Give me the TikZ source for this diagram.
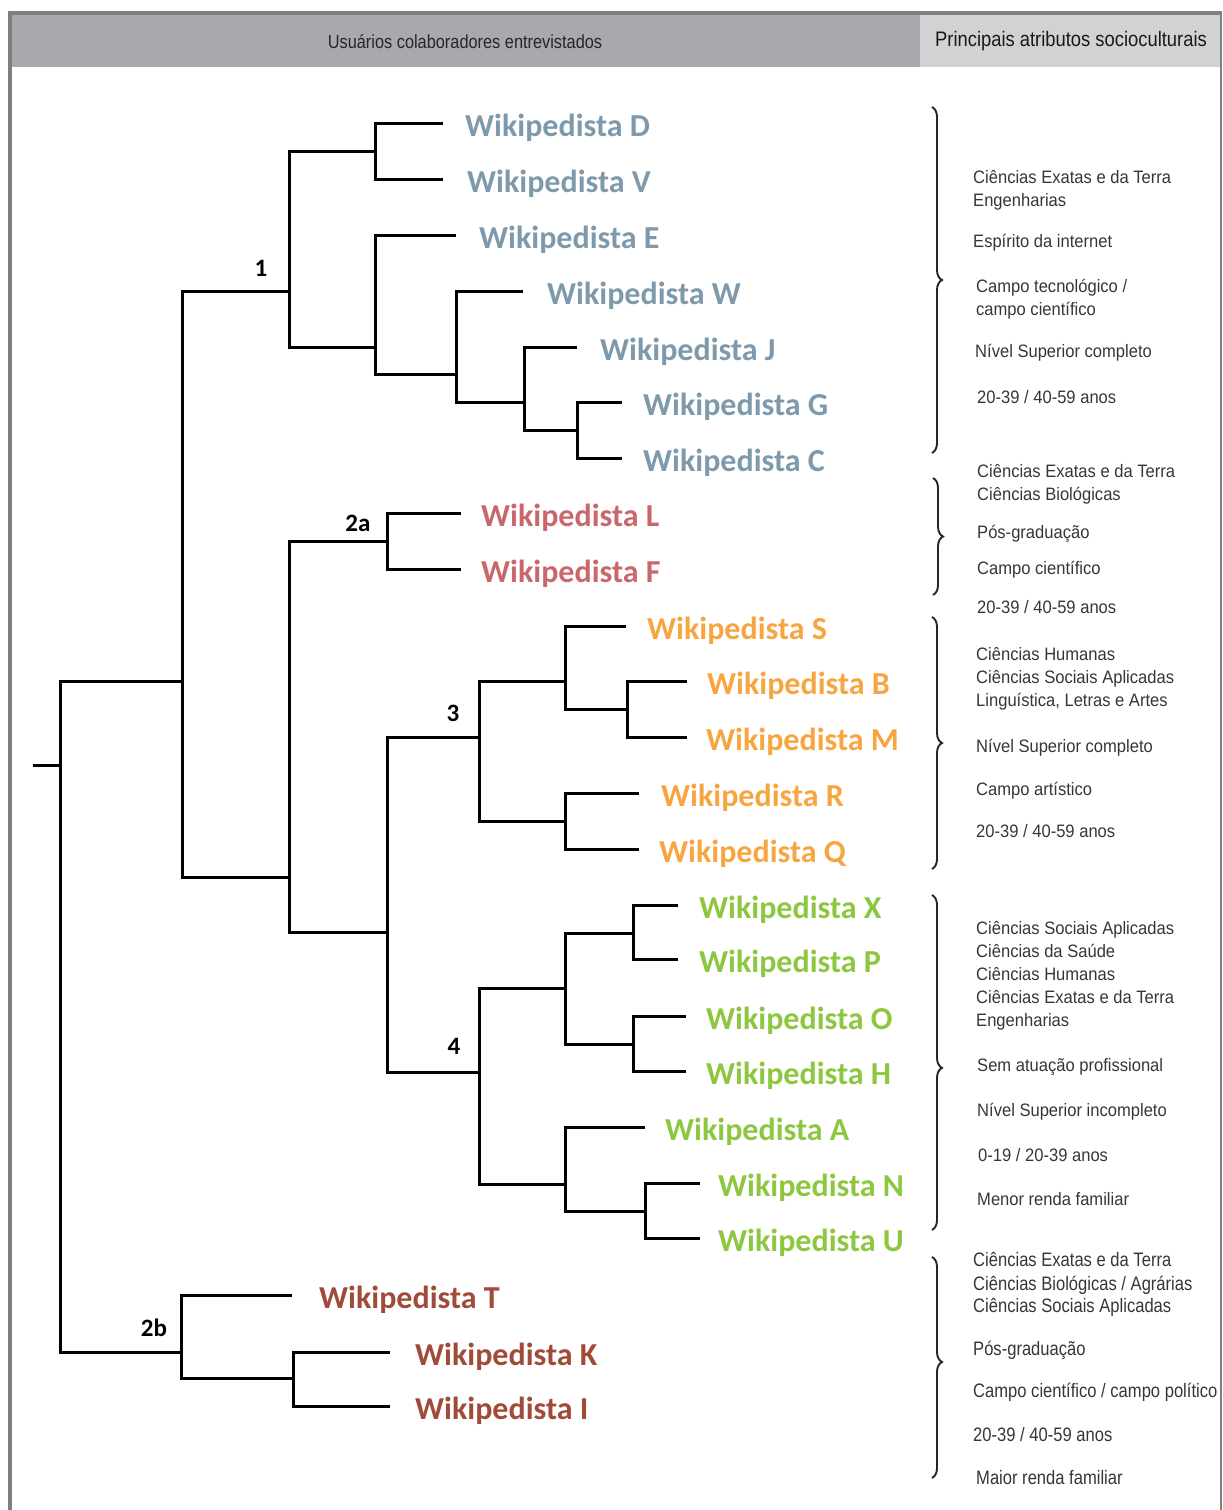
\documentclass[tikz,border=0pt]{standalone}
\usepackage{fontspec}
\setmainfont{Liberation Sans}
\newfontfamily\calfont{Carlito}
\usetikzlibrary{decorations.pathreplacing}
\definecolor{cblue}{HTML}{7D99AB}
\definecolor{cred}{HTML}{C9676B}
\definecolor{corange}{HTML}{F7A541}
\definecolor{cgreen}{HTML}{8DC63F}
\definecolor{cbrown}{HTML}{A04A3A}
\definecolor{ctext}{HTML}{363636}
\definecolor{hdark}{HTML}{A7A9AC}
\definecolor{hlight}{HTML}{D1D2D4}
\definecolor{framegray}{HTML}{7F7F7F}
\newcommand{\hsq}[2]{\scalebox{#1}[1]{#2}}
\begin{document}
\begin{tikzpicture}[x=1pt,y=-1pt,
  tree/.style={line width=3pt, draw=black},
  wiki/.style={anchor=base west, inner sep=0pt, font=\calfont\bfseries\fontsize{32}{38}\selectfont},
  attr/.style={anchor=base west, inner sep=0pt, text=ctext, font=\fontsize{18}{22}\selectfont},
  attrb/.style={anchor=base west, inner sep=0pt, text=ctext, font=\fontsize{19.5}{23}\selectfont},
  clab/.style={inner sep=0pt, font=\calfont\bfseries\fontsize{25}{30}\selectfont},
  brc/.style={decorate, decoration={brace, amplitude=10pt, aspect=#1}, line width=1.9pt, draw=black!85},
  brc/.default=0.5
]
\useasboundingbox (0,0) rectangle (1223,1510);
% header
\fill[hdark] (12,15) rectangle (920,67);
\fill[hlight] (920,15) rectangle (1220,67);
\draw[framegray, line width=4pt] (8,13) -- (1222,13);
\draw[framegray, line width=3.5pt] (10,11) -- (10,1510);
\draw[framegray, line width=2pt] (1221,11) -- (1221,1510);
\node[font=\fontsize{19}{22}\selectfont, text=black!85] (h1) at (465,42) {\hsq{0.86}{Usuários colaboradores entrevistados}};
\node[font=\fontsize{21}{24}\selectfont, text=black!90] (h2) at (1071,41) {\hsq{0.875}{Principais atributos socioculturais}};

% internal nodes
\coordinate (r0) at (33,765);
\coordinate (root) at (60,765);
\coordinate (nA) at (182,681);
\coordinate (c1) at (289,291);
\coordinate (DV) at (375,151);
\coordinate (Erest) at (375,347);
\coordinate (Wrest) at (456,374);
\coordinate (Jrest) at (524,402);
\coordinate (GC) at (577,430);
\coordinate (c2) at (289,877);
\coordinate (n2a) at (387,541);
\coordinate (c34) at (387,932);
\coordinate (n3) at (479,737);
\coordinate (SBM) at (565,681);
\coordinate (BM) at (627,709);
\coordinate (RQ) at (565,821);
\coordinate (n4) at (479,1072);
\coordinate (XPOH) at (565,988);
\coordinate (XP) at (633,933);
\coordinate (OH) at (633,1044);
\coordinate (ANU) at (565,1184);
\coordinate (NU) at (645,1211);
\coordinate (n2b) at (181,1352);
\coordinate (KI) at (293,1378);
% leaf ends
\coordinate (eD) at (443,123);
\coordinate (eV) at (443,179);
\coordinate (eE) at (456,235);
\coordinate (eW) at (523,291);
\coordinate (eJ) at (577,347);
\coordinate (eG) at (622,402);
\coordinate (eC) at (622,458);
\coordinate (eL) at (461,513);
\coordinate (eF) at (461,569);
\coordinate (eS) at (626,626);
\coordinate (eB) at (687,681);
\coordinate (eM) at (687,737);
\coordinate (eR) at (639,793);
\coordinate (eQ) at (639,849);
\coordinate (eX) at (678,905);
\coordinate (eP) at (678,959);
\coordinate (eO) at (686,1016);
\coordinate (eH) at (686,1071);
\coordinate (eA) at (645,1127);
\coordinate (eN) at (700,1183);
\coordinate (eU) at (700,1238);
\coordinate (eT) at (292,1295);
\coordinate (eK) at (390,1352);
\coordinate (eI) at (390,1406);

% edges
\draw[tree] (r0) -- (root);
\draw[tree] (root) |- (nA);
\draw[tree] (root) |- (n2b);
\draw[tree] (nA) |- (c1);
\draw[tree] (nA) |- (c2);
\draw[tree] (c1) |- (DV);
\draw[tree] (c1) |- (Erest);
\draw[tree] (DV) |- (eD);
\draw[tree] (DV) |- (eV);
\draw[tree] (Erest) |- (eE);
\draw[tree] (Erest) |- (Wrest);
\draw[tree] (Wrest) |- (eW);
\draw[tree] (Wrest) |- (Jrest);
\draw[tree] (Jrest) |- (eJ);
\draw[tree] (Jrest) |- (GC);
\draw[tree] (GC) |- (eG);
\draw[tree] (GC) |- (eC);
\draw[tree] (c2) |- (n2a);
\draw[tree] (c2) |- (c34);
\draw[tree] (n2a) |- (eL);
\draw[tree] (n2a) |- (eF);
\draw[tree] (c34) |- (n3);
\draw[tree] (c34) |- (n4);
\draw[tree] (n3) |- (SBM);
\draw[tree] (n3) |- (RQ);
\draw[tree] (SBM) |- (eS);
\draw[tree] (SBM) |- (BM);
\draw[tree] (BM) |- (eB);
\draw[tree] (BM) |- (eM);
\draw[tree] (RQ) |- (eR);
\draw[tree] (RQ) |- (eQ);
\draw[tree] (n4) |- (XPOH);
\draw[tree] (n4) |- (ANU);
\draw[tree] (XPOH) |- (XP);
\draw[tree] (XPOH) |- (OH);
\draw[tree] (XP) |- (eX);
\draw[tree] (XP) |- (eP);
\draw[tree] (OH) |- (eO);
\draw[tree] (OH) |- (eH);
\draw[tree] (ANU) |- (eA);
\draw[tree] (ANU) |- (NU);
\draw[tree] (NU) |- (eN);
\draw[tree] (NU) |- (eU);
\draw[tree] (n2b) |- (eT);
\draw[tree] (n2b) |- (KI);
\draw[tree] (KI) |- (eK);
\draw[tree] (KI) |- (eI);

% cluster labels
\node[clab] (l1) at (261,268) {1};
\node[clab] (l2a) at (358,523) {2a};
\node[clab] (l3) at (453,713) {3};
\node[clab] (l4) at (454,1046) {4};
\node[clab] (l2b) at (154,1328) {2b};

% leaf labels
\node[wiki, text=cblue] (D) at (465,136) {Wikipedista D};
\node[wiki, text=cblue] (V) at (467,192) {Wikipedista V};
\node[wiki, text=cblue] (E) at (479,248) {Wikipedista E};
\node[wiki, text=cblue] (W) at (547,304) {Wikipedista W};
\node[wiki, text=cblue] (J) at (600,360) {Wikipedista J};
\node[wiki, text=cblue] (G) at (643,415) {Wikipedista G};
\node[wiki, text=cblue] (C) at (643,471) {Wikipedista C};
\node[wiki, text=cred] (L) at (481,526) {Wikipedista L};
\node[wiki, text=cred] (F) at (481,582) {Wikipedista F};
\node[wiki, text=corange] (S) at (647,639) {Wikipedista S};
\node[wiki, text=corange] (B) at (707,694) {Wikipedista B};
\node[wiki, text=corange] (M) at (706,750) {Wikipedista M};
\node[wiki, text=corange] (R) at (661,806) {Wikipedista R};
\node[wiki, text=corange] (Q) at (659,862) {Wikipedista Q};
\node[wiki, text=cgreen] (X) at (699,918) {Wikipedista X};
\node[wiki, text=cgreen] (P) at (699,972) {Wikipedista P};
\node[wiki, text=cgreen] (O) at (706,1029) {Wikipedista O};
\node[wiki, text=cgreen] (H) at (706,1084) {Wikipedista H};
\node[wiki, text=cgreen] (A) at (665,1140) {Wikipedista A};
\node[wiki, text=cgreen] (N) at (718,1196) {Wikipedista N};
\node[wiki, text=cgreen] (U) at (718,1251) {Wikipedista U};
\node[wiki, text=cbrown] (T) at (319,1308) {Wikipedista T};
\node[wiki, text=cbrown] (K) at (415,1365) {Wikipedista K};
\node[wiki, text=cbrown] (I) at (415,1419) {Wikipedista I};

% braces
\coordinate (b1t) at (932,107); \coordinate (b1b) at (932,453);
\coordinate (b2t) at (933,478); \coordinate (b2b) at (933,595);
\coordinate (b3t) at (932,617); \coordinate (b3b) at (932,869);
\coordinate (b4t) at (932,895); \coordinate (b4b) at (932,1230);
\coordinate (b5t) at (932,1257); \coordinate (b5b) at (932,1478);
\draw[brc] (b1t) -- (b1b);
\draw[brc] (b2t) -- (b2b);
\draw[brc] (b3t) -- (b3b);
\draw[brc=0.516] (b4t) -- (b4b);
\draw[brc=0.475] (b5t) -- (b5b);

% attributes
\foreach \n/\x/\y/\t in {
 a1/973/183/{Ciências Exatas e da Terra},
 a2/973/206/{Engenharias},
 a3/973/247/{Espírito da internet},
 a4/976/292/{Campo tecnológico /},
 a5/976/315/{campo científico},
 a6/975/357/{Nível Superior completo},
 a7/977/403/{20-39 / 40-59 anos},
 b1/977/477/{Ciências Exatas e da Terra},
 b2/977/500/{Ciências Biológicas},
 b3/977/538/{Pós-graduação},
 b4/977/574/{Campo científico},
 b5/977/613/{20-39 / 40-59 anos},
 c1/976/660/{Ciências Humanas},
 c2/976/683/{Ciências Sociais Aplicadas},
 c3/976/706/{Linguística, Letras e Artes},
 c4/976/752/{Nível Superior completo},
 c5/976/795/{Campo artístico},
 c6/976/837/{20-39 / 40-59 anos},
 d1/976/934/{Ciências Sociais Aplicadas},
 d2/976/957/{Ciências da Saúde},
 d3/976/980/{Ciências Humanas},
 d4/976/1003/{Ciências Exatas e da Terra},
 d5/976/1026/{Engenharias},
 d6/977/1071/{Sem atuação profissional},
 d7/977/1116/{Nível Superior incompleto},
 d8/978/1161/{0-19 / 20-39 anos},
 d9/977/1205/{Menor renda familiar}}
 {\node[attr] (t\n) at (\x,\y) {\hsq{0.92}{\t}};}
\foreach \n/\x/\y/\t in {
 e1/973/1266/{Ciências Exatas e da Terra},
 e2/973/1290/{Ciências Biológicas / Agrárias},
 e3/973/1312/{Ciências Sociais Aplicadas},
 e4/973/1355/{Pós-graduação},
 e5/973/1397/{Campo científico / campo político},
 e6/973/1441/{20-39 / 40-59 anos},
 e7/976/1484/{Maior renda familiar}}
 {\node[attrb] (t\n) at (\x,\y) {\hsq{0.85}{\t}};}
\end{tikzpicture}
\end{document}
